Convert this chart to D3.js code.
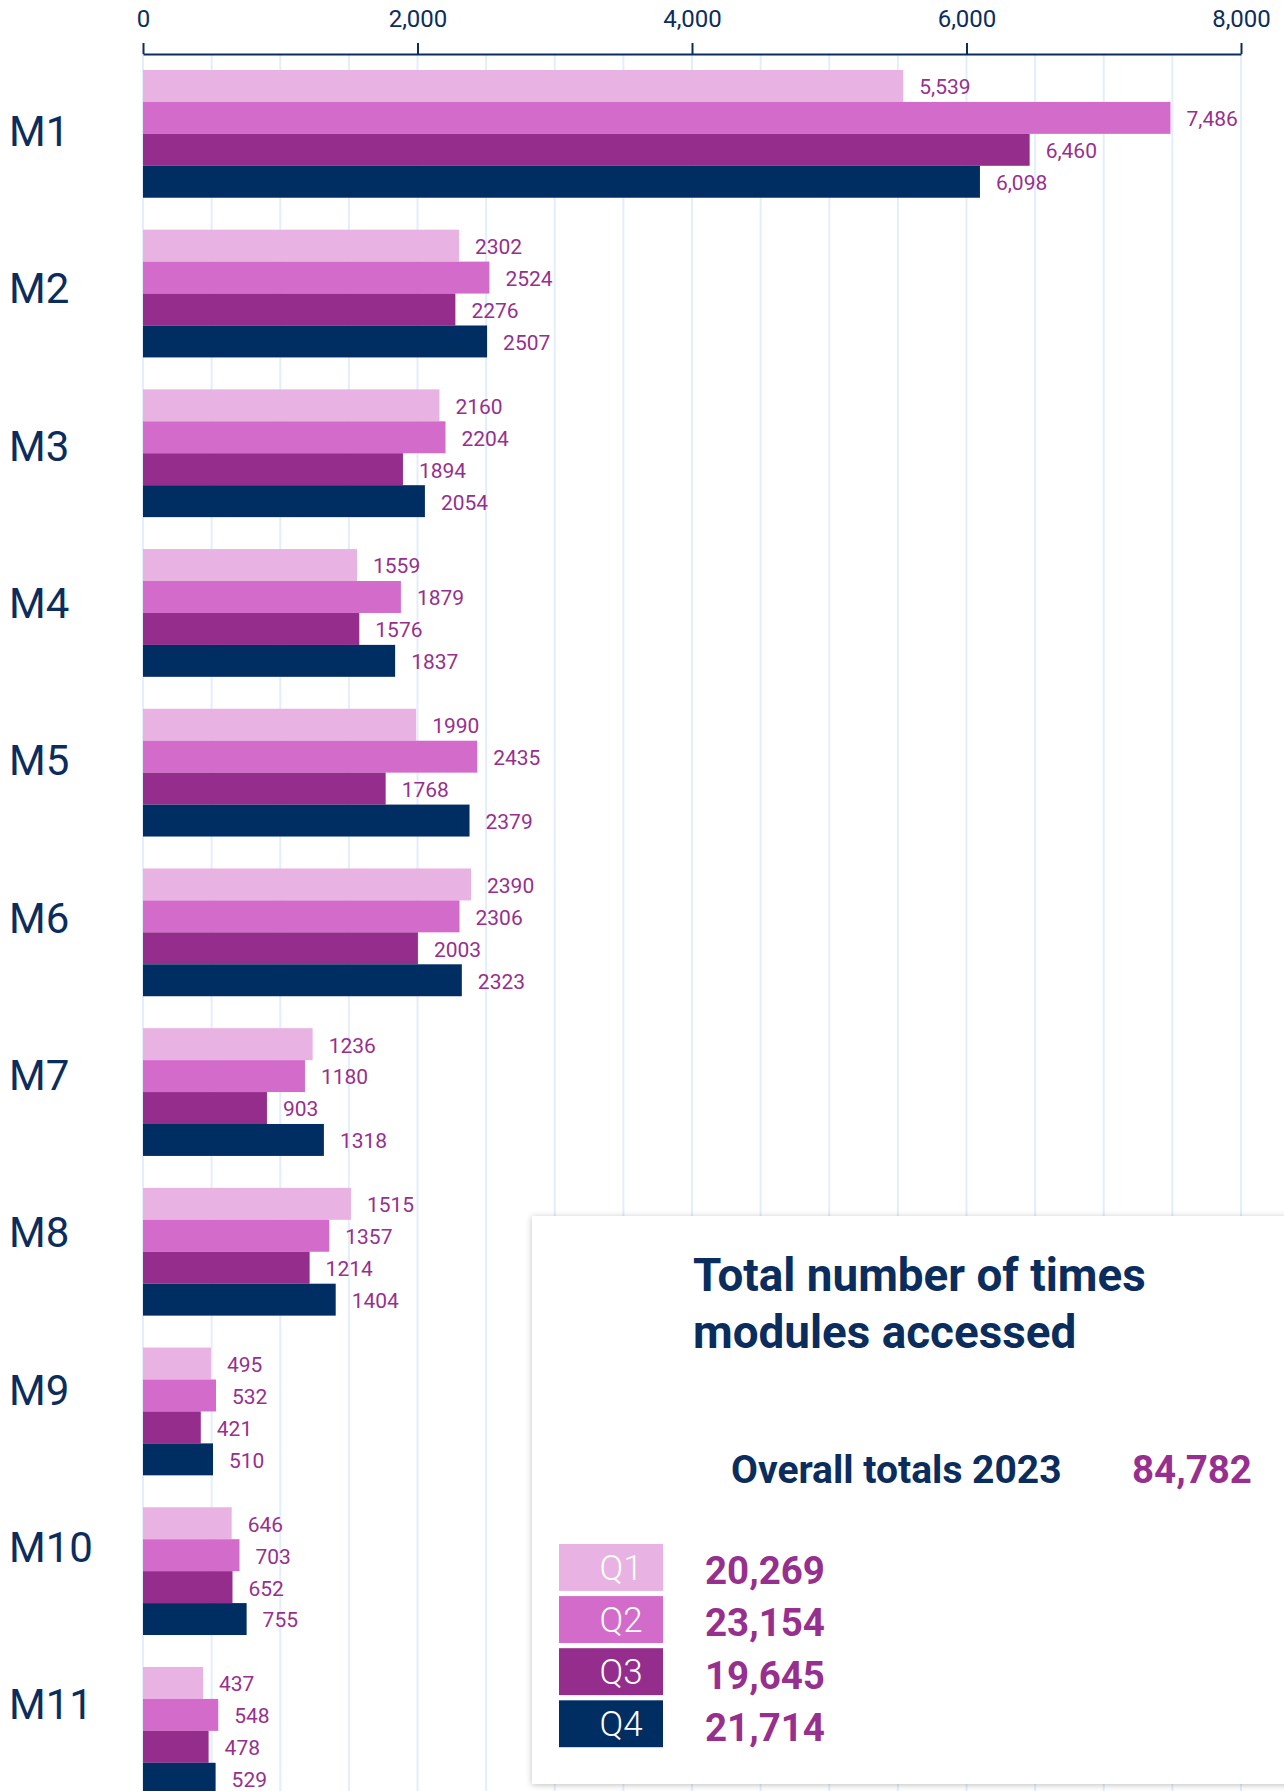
<!DOCTYPE html>
<html><head><meta charset="utf-8">
<script src="https://cdn.jsdelivr.net/npm/d3@7"></script>
<style>
html,body{margin:0;padding:0;background:#fff;overflow:hidden}
svg{display:block;font-family:Roboto,"Noto Sans",sans-serif}
</style></head><body>
<svg id="chart" width="1284" height="1791"></svg>
<script>
// ---- data ----
const modules = ["M1","M2","M3","M4","M5","M6","M7","M8","M9","M10","M11"];
const quarters = ["Q1","Q2","Q3","Q4"];
const q1Values = [5539,2302,2160,1559,1990,2390,1236,1515,495,646,437];
const q2Values = [7486,2524,2204,1879,2435,2306,1180,1357,532,703,548];
const q3Values = [6460,2276,1894,1576,1768,2003,903,1214,421,652,478];
const q4Values = [6098,2507,2054,1837,2379,2323,1318,1404,510,755,529];
const quarterTotals = [20269,23154,19645,21714];
const overallTotal = 84782;
const xTicks = [0,2000,4000,6000,8000];
const titleLines = ["Total number of times","modules accessed"];
const overallLabel = "Overall totals 2023";

// ---- styles ----
const colors = ["#e8b2e3","#d36bcb","#942d8c","#002d62"];
const navy = "#0b2d5e";
const purple = "#972f8f";
const gridColor = "#e3eefb";

const series = [q1Values,q2Values,q3Values,q4Values];
const rows = modules.map((m,i)=>({module:m, vals: quarters.map((q,j)=>({q, j, v: series[j][i], first: i===0}))}));

const svg = d3.select("#chart");
const W = 1284, H = 1791;

const x = d3.scaleLinear().domain([0,8000]).range([143,1241]);
const y = d3.scaleBand().domain(modules).range([54, 54 + 159.7*11]).paddingInner(0.2).paddingOuter(0.1);
const y1 = d3.scaleBand().domain(quarters).range([0, y.bandwidth()]);
const yLabel = d3.scalePoint().domain(modules).range([131, 1704]);
const color = d3.scaleOrdinal().domain(quarters).range(colors);

// gridlines
svg.append("g").selectAll("line").data(d3.range(0, 8001, 500)).join("line")
  .attr("x1", d=>x(d)).attr("x2", d=>x(d)).attr("y1", 54).attr("y2", H)
  .attr("stroke", gridColor).attr("stroke-width", 2);

// axis
const axis = svg.append("g").attr("transform","translate(0,54)")
  .call(d3.axisTop(x).tickValues(xTicks).tickFormat(d3.format(",")).tickSizeInner(11).tickSizeOuter(0).tickPadding(16));
axis.select(".domain").attr("stroke", navy).attr("stroke-width", 2);
axis.selectAll(".tick line").attr("stroke", navy).attr("stroke-width", 2);
axis.selectAll(".tick text").attr("fill", navy).attr("font-size", 24).attr("font-family","Roboto");

// bars
const groups = svg.append("g").selectAll("g").data(rows).join("g")
  .attr("transform", d=>`translate(0,${y(d.module)})`);
groups.selectAll("rect").data(d=>d.vals).join("rect")
  .attr("x", x(0)).attr("y", d=>y1(d.q))
  .attr("width", d=>x(d.v)-x(0)).attr("height", y1.bandwidth())
  .attr("fill", d=>color(d.q));
groups.selectAll("text.val").data(d=>d.vals).join("text").attr("class","val")
  .attr("x", d=>x(d.v)+16).attr("y", d=>y1(d.q)+y1.bandwidth()/2).attr("dy","0.4em")
  .attr("fill", purple).attr("font-size", 21)
  .text(d=> d.first ? d3.format(",")(d.v) : String(d.v));

// category labels
svg.append("g").selectAll("text").data(modules).join("text")
  .attr("x", 9).attr("y", d=>yLabel(d)).attr("dy","0.36em")
  .attr("fill", navy).attr("font-size", 42)
  .text(d=>d);

// legend box
const defs = svg.append("defs");
const f = defs.append("filter").attr("id","sh").attr("x","-10%").attr("y","-10%").attr("width","130%").attr("height","130%");
f.append("feDropShadow").attr("dx",0).attr("dy",1).attr("stdDeviation",3).attr("flood-color","#000").attr("flood-opacity",0.25);
const lg = svg.append("g");
lg.append("rect").attr("x",532).attr("y",1216).attr("width",820).attr("height",568)
  .attr("fill","#fff").attr("filter","url(#sh)");
lg.append("g").selectAll("text").data(titleLines).join("text")
  .attr("x",693).attr("y",(d,i)=>1291+i*57)
  .attr("fill",navy).attr("font-size",45.8).attr("font-weight",700).text(d=>d);
lg.append("text").attr("x",731).attr("y",1483).attr("fill",navy)
  .attr("font-size",39).attr("font-weight",700).text(overallLabel);
lg.append("text").attr("x",1132).attr("y",1483).attr("fill",purple)
  .attr("font-size",38.5).attr("font-weight",700).text(d3.format(",")(overallTotal));
const ly = d3.scaleBand().domain(quarters).range([1544, 1544+50.8*4]).paddingInner(0.1);
const items = lg.append("g").selectAll("g").data(quarters).join("g")
  .attr("transform", d=>`translate(0,${ly(d)})`);
items.append("rect").attr("x",559).attr("width",104).attr("height",ly.bandwidth()).attr("fill",d=>color(d));
items.append("text").attr("x",621).attr("y",ly.bandwidth()/2).attr("dy","0.36em")
  .attr("text-anchor","middle").attr("fill","#fff").attr("font-size",35).attr("font-weight",300).text(d=>d);
items.append("text").attr("x",705).attr("y",ly.bandwidth()/2 + 3).attr("dy","0.36em")
  .attr("fill",purple).attr("font-size",38.5).attr("font-weight",700)
  .text((d,i)=>d3.format(",")(quarterTotals[i]));
</script>
</body></html>
